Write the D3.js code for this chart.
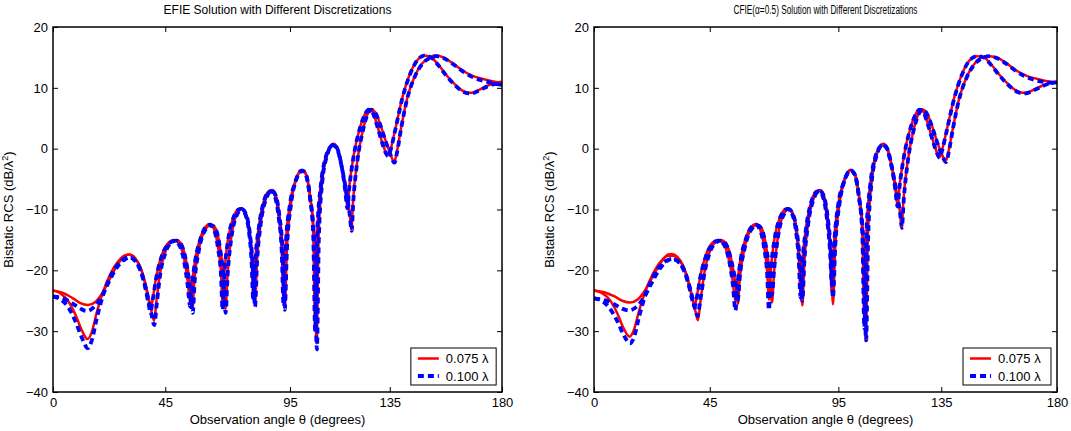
<!DOCTYPE html>
<html lang="en">
<head>
<meta charset="utf-8">
<title>Bistatic RCS - EFIE / CFIE</title>
<script src="https://d3js.org/d3.v7.min.js"></script>
<style>
  body { margin: 0; background: #fff; }
  svg { display: block; font-family: "Liberation Sans", Arial, sans-serif; }
  .tick text { font-size: 13px; fill: #000; }
  .tick line { stroke: #000; stroke-width: 1; }
</style>
</head>
<body>
<svg id="chart" width="1071" height="431"></svg>
<script>
// tick labels
const xTicks = [0, 45, 95, 135, 180];
const yTicks = [-40, -30, -20, -10, 0, 10, 20];
const seriesNames = ["0.075 \u03bb", "0.100 \u03bb"];

// EFIE panel, [angle in degrees, RCS in dB]
const efieRedA = [[0,-23.3],[4,-23.7],[8,-24.6],[11,-25.4],[14,-25.7],[17,-25.2],[20,-23.6],[23,-21.2],[26,-19.0],[29,-17.6],[30.5,-17.4],[32.5,-17.9],[34.8,-19.3],[36.8,-22.0],[38.4,-25.0],[39.2,-26.3],[40,-24.6],[41.5,-20.8],[43.5,-17.6],[46,-15.6],[48.5,-15.0],[50.5,-15.6],[52.5,-18.0],[54,-21.8],[55,-25.5],[55.6,-22.8],[57,-18.2],[59,-14.8],[61,-12.9],[62.8,-12.4],[64.5,-13.2],[66.2,-16.3],[67.3,-20.0],[68,-25.5],[68.7,-20.5],[70.2,-14.8],[72.2,-11.4],[74.5,-9.9],[75.5,-9.8],[77,-10.6],[78.5,-13.3],[79.6,-18.0],[80.3,-24.5],[81,-18.8],[82.5,-12.8],[84.5,-8.6],[86.5,-7.0],[87.6,-6.9],[89,-7.8],[90.5,-11.2],[91.7,-16.8],[92.4,-25.0],[93.2,-16.5],[95,-9.0],[97,-5.5],[99,-3.8],[100,-3.5],[101.5,-4.3],[103,-7.6],[104.3,-13.5],[105.1,-29.5],[105.9,-13.8],[107.4,-5.8],[109.4,-1.2],[111.4,0.5],[112.5,0.8],[114,0.1],[115.8,-3.0],[117.1,-6.5],[118,-9.6],[118.8,-6.2],[120.5,-1.2],[123,3.4],[125.3,5.9],[126.5,6.5],[128,6.1],[130,3.8],[132,1.0],[133.4,-0.6],[134.2,-1.1],[135.2,-0.3],[137,2.8],[140,8.3],[143,12.2],[146,14.5],[148.8,15.3],[151.5,15.0],[154.5,13.8],[157.5,12.2],[160.5,10.8],[163.5,9.7],[166.5,9.2],[168,9.2],[171,9.7],[174,10.3],[177,10.8],[180,11.0]];
const efieRedB = [[0,-23.3],[3,-23.8],[6,-25.0],[9,-27.3],[11.5,-29.8],[13.8,-31.3],[15.5,-30.2],[17.5,-27.0],[20,-23.6],[23,-20.6],[26,-18.6],[29,-17.5],[30.8,-17.4],[33,-18.0],[35.5,-20.0],[37.8,-23.5],[39.5,-26.8],[40.5,-28.3],[41.5,-25.0],[43,-20.3],[45,-17.0],[47.5,-15.3],[49.5,-15.0],[51.2,-15.5],[53.2,-18.0],[55,-22.5],[55.9,-26.3],[56.7,-21.5],[58.5,-16.5],[61,-13.3],[63.5,-12.5],[65.2,-13.1],[67,-16.3],[68.4,-21.0],[69.2,-26.3],[70,-20.5],[71.5,-14.5],[73.5,-11.0],[75.8,-9.9],[77.3,-10.6],[79,-14.0],[80.2,-19.5],[81,-25.5],[81.8,-18.5],[83.2,-12.5],[85.3,-8.3],[87.8,-6.8],[89.3,-7.6],[90.8,-11.0],[92.1,-17.0],[92.9,-26.3],[93.8,-16.3],[95.5,-8.8],[97.5,-5.0],[99.6,-3.5],[101.2,-4.0],[103,-7.8],[104.6,-14.0],[105.7,-32.0],[106.5,-14.2],[108,-5.2],[110,-0.9],[112,0.7],[113.6,0.3],[115.6,-2.6],[117.6,-7.0],[119,-10.8],[119.6,-13.4],[120.3,-8.5],[122,-2.0],[124.2,3.0],[126.5,6.0],[127.6,6.5],[129.2,6.0],[131.2,4.0],[133.2,1.5],[135.2,-0.8],[136.8,-2.2],[137.8,-0.6],[139.5,3.3],[142,8.3],[145,11.9],[148,14.0],[151,15.0],[153.5,15.3],[156.5,15.0],[160,14.1],[164,12.9],[168,12.0],[172,11.5],[176,11.1],[180,10.8]];
const efieBlueA = [[0,-24.3],[4,-24.6],[8,-25.5],[11,-26.3],[13.5,-26.7],[16.5,-26.0],[19.5,-24.3],[22.5,-21.8],[25.5,-19.6],[28.5,-18.3],[30.5,-17.9],[32.5,-18.3],[34.8,-19.8],[36.8,-22.5],[38.3,-25.5],[39.1,-26.8],[40,-24.8],[41.5,-21.0],[43.5,-17.8],[46,-15.8],[48.5,-15.2],[50.5,-15.8],[52.4,-18.2],[54,-22.5],[55,-26.0],[55.6,-23.0],[57,-18.4],[59,-15.0],[61,-13.0],[62.8,-12.5],[64.5,-13.3],[66.2,-16.5],[67.3,-20.5],[68,-26.5],[68.7,-20.8],[70.2,-15.0],[72.2,-11.5],[74.5,-10.0],[75.5,-9.9],[77,-10.7],[78.5,-13.5],[79.6,-18.5],[80.3,-25.0],[81,-19.0],[82.5,-13.0],[84.5,-8.7],[86.5,-7.1],[87.6,-7.0],[89,-7.9],[90.5,-11.4],[91.7,-17.0],[92.4,-25.5],[93.2,-16.8],[95,-9.1],[97,-5.6],[99,-3.9],[100,-3.6],[101.5,-4.4],[103,-7.8],[104.3,-14.0],[105.1,-30.0],[105.9,-14.0],[107.4,-5.9],[109.4,-1.3],[111.4,0.4],[112.5,0.7],[114,0.0],[115.8,-3.1],[117.1,-6.7],[118,-9.8],[118.8,-6.3],[120.5,-1.3],[123,3.3],[125.3,5.8],[126.5,6.4],[128,6.0],[130,3.7],[132,0.9],[133.4,-0.7],[134.2,-1.2],[135.2,-0.4],[137,2.7],[140,8.2],[143,12.1],[146,14.5],[148.8,15.3],[151.5,15.0],[154.5,13.7],[157.5,12.1],[160.5,10.7],[163.5,9.6],[166.5,9.1],[168,9.1],[171,9.6],[174,10.2],[177,10.6],[180,10.7]];
const efieBlueB = [[0,-24.3],[3,-24.8],[6,-26.0],[9,-28.4],[11.5,-31.0],[14,-32.8],[15.7,-31.3],[17.6,-27.8],[20,-24.2],[23,-21.0],[26,-19.0],[29,-18.0],[31,-17.9],[33.2,-18.5],[35.6,-20.5],[37.8,-24.0],[39.5,-27.3],[40.6,-29.0],[41.6,-25.5],[43,-20.6],[45,-17.2],[47.5,-15.4],[49.5,-15.1],[51.2,-15.6],[53.2,-18.2],[55,-23.0],[56,-27.0],[56.8,-21.8],[58.5,-16.7],[61,-13.4],[63.5,-12.6],[65.2,-13.2],[67,-16.5],[68.4,-21.5],[69.2,-27.0],[70,-20.8],[71.5,-14.7],[73.5,-11.1],[75.8,-10.0],[77.3,-10.7],[79,-14.2],[80.2,-19.8],[81,-26.0],[81.8,-18.7],[83.2,-12.6],[85.3,-8.4],[87.8,-6.9],[89.3,-7.7],[90.8,-11.1],[92.1,-17.2],[92.9,-26.5],[93.8,-16.5],[95.5,-8.9],[97.5,-5.1],[99.6,-3.6],[101.2,-4.1],[103,-8.0],[104.6,-14.5],[105.8,-33.0],[106.6,-14.5],[108,-5.3],[110,-1.0],[112,0.6],[113.6,0.2],[115.6,-2.7],[117.6,-7.2],[119,-11.0],[119.7,-13.5],[120.4,-8.6],[122,-2.1],[124.2,2.9],[126.5,6.0],[127.6,6.4],[129.2,5.9],[131.2,3.9],[133.2,1.4],[135.2,-0.9],[136.9,-2.3],[137.9,-0.7],[139.5,3.2],[142,8.2],[145,11.8],[148,13.9],[151,14.9],[153.5,15.2],[156.5,14.9],[160,14.0],[164,12.8],[168,11.8],[172,11.2],[176,10.8],[180,10.5]];

// CFIE panel
const cfieRedA = [[0,-23.3],[4,-23.6],[8,-24.3],[11,-25.0],[14,-25.3],[17,-24.8],[20,-23.2],[23,-20.9],[26,-18.7],[28.8,-17.4],[30.3,-17.3],[32.4,-17.8],[34.7,-19.3],[36.7,-22.0],[38.3,-24.8],[39.2,-25.8],[40,-24.2],[41.5,-20.6],[43.5,-17.5],[46,-15.5],[48.2,-15.0],[50.3,-15.6],[52.3,-18.0],[53.9,-21.6],[54.9,-25.0],[55.6,-22.4],[57,-18.0],[59,-14.7],[61,-12.9],[62.8,-12.4],[64.5,-13.2],[66.2,-16.3],[67.3,-20.0],[68,-24.8],[68.7,-20.2],[70.2,-14.7],[72.2,-11.4],[74.5,-9.9],[75.5,-9.8],[77,-10.6],[78.5,-13.3],[79.6,-18.0],[80.3,-23.8],[81,-18.6],[82.5,-12.8],[84.5,-8.6],[86.5,-7.0],[87.6,-6.9],[89,-7.8],[90.5,-11.2],[91.7,-16.5],[92.4,-23.5],[93.2,-16.2],[95,-9.0],[97,-5.5],[99,-3.8],[100,-3.5],[101.5,-4.3],[103,-7.6],[104.3,-13.5],[105.1,-28.5],[105.9,-13.8],[107.4,-5.8],[109.4,-1.2],[111.4,0.5],[112.5,0.8],[114,0.1],[115.8,-3.0],[117.1,-6.5],[118,-9.4],[118.8,-6.1],[120.5,-1.2],[123,3.4],[125.3,5.9],[126.5,6.5],[128,6.1],[130,3.8],[132,1.0],[133.4,-0.7],[134.3,-1.4],[135.2,-0.4],[137,2.8],[140,8.3],[143,12.2],[146,14.5],[149,15.2],[151.5,15.0],[154.5,13.8],[157.5,12.2],[160.5,10.8],[163.5,9.7],[166.5,9.2],[168,9.2],[171,9.7],[174,10.3],[177,10.8],[180,11.0]];
const cfieRedB = [[0,-23.3],[3,-23.7],[6,-24.8],[9,-27.0],[11.5,-29.5],[13.8,-30.9],[15.5,-29.8],[17.5,-26.7],[20,-23.4],[23,-20.5],[26,-18.5],[29,-17.6],[30.8,-17.6],[33,-18.2],[35.5,-20.2],[37.8,-23.6],[39.5,-26.8],[40.4,-28.2],[41.4,-25.0],[43,-20.2],[45,-16.9],[47.5,-15.3],[49.5,-15.0],[51.2,-15.5],[53.2,-17.9],[55,-22.3],[55.9,-25.5],[56.7,-21.3],[58.5,-16.4],[61,-13.3],[63.5,-12.5],[65.2,-13.1],[67,-16.3],[68.4,-21.0],[69.2,-25.3],[70,-20.3],[71.5,-14.5],[73.5,-11.0],[75.8,-9.9],[77.3,-10.6],[79,-14.0],[80.2,-19.5],[81,-25.8],[81.8,-18.5],[83.2,-12.5],[85.3,-8.3],[87.8,-6.8],[89.3,-7.6],[90.8,-11.0],[92.1,-17.0],[92.9,-25.6],[93.8,-16.2],[95.5,-8.8],[97.5,-5.0],[99.6,-3.5],[101.2,-4.0],[103,-7.8],[104.6,-14.0],[105.7,-31.6],[106.5,-14.2],[108,-5.2],[110,-0.9],[112,0.7],[113.6,0.3],[115.6,-2.6],[117.6,-7.0],[119,-10.6],[119.6,-13.1],[120.3,-8.4],[122,-2.0],[124.2,3.0],[126.5,6.0],[127.6,6.5],[129.2,6.0],[131.2,4.0],[133.2,1.4],[135.2,-0.9],[136.8,-2.0],[137.8,-0.5],[139.5,3.3],[142,8.3],[145,11.9],[148,14.0],[151,15.0],[154,15.2],[157,14.9],[160.5,14.0],[164,12.9],[168,12.0],[172,11.5],[176,11.1],[180,10.9]];
const cfieBlueA = [[0,-24.6],[4,-24.9],[8,-25.6],[11,-26.3],[13.5,-26.6],[16.5,-26.0],[19.5,-24.4],[22.5,-22.0],[25.5,-19.8],[28.5,-18.4],[30.5,-18.1],[32.5,-18.5],[34.8,-19.9],[36.8,-22.4],[38.3,-25.0],[39.1,-26.0],[40,-24.4],[41.5,-20.8],[43.5,-17.7],[46,-15.7],[48.3,-15.1],[50.4,-15.7],[52.4,-18.2],[54,-22.4],[55,-26.6],[55.7,-22.9],[57,-18.3],[59,-14.9],[61,-13.0],[62.8,-12.5],[64.5,-13.3],[66.2,-16.5],[67.3,-20.5],[68,-26.5],[68.7,-20.6],[70.2,-14.9],[72.2,-11.5],[74.5,-10.0],[75.5,-9.9],[77,-10.7],[78.5,-13.5],[79.6,-18.3],[80.3,-24.5],[81,-18.9],[82.5,-12.9],[84.5,-8.7],[86.5,-7.1],[87.6,-7.0],[89,-7.9],[90.5,-11.3],[91.7,-16.5],[92.5,-22.5],[93.3,-16.0],[95,-9.0],[97,-5.6],[99,-3.9],[100,-3.6],[101.5,-4.4],[103,-7.8],[104.3,-14.0],[105.1,-29.5],[105.9,-14.0],[107.4,-5.9],[109.4,-1.3],[111.4,0.4],[112.5,0.7],[114,0.0],[115.8,-3.1],[117.1,-6.6],[118,-9.5],[118.8,-6.2],[120.5,-1.3],[123,3.3],[125.3,5.8],[126.5,6.4],[128,6.0],[130,3.7],[132,0.9],[133.4,-0.8],[134.3,-1.5],[135.2,-0.5],[137,2.7],[140,8.2],[143,12.1],[146,14.5],[149,15.2],[151.5,15.0],[154.5,13.7],[157.5,12.1],[160.5,10.7],[163.5,9.6],[166.5,9.1],[168,9.1],[171,9.6],[174,10.2],[177,10.7],[180,10.9]];
const cfieBlueB = [[0,-24.6],[3,-25.0],[6,-26.2],[9,-28.3],[11.5,-30.6],[14,-32.0],[15.7,-30.8],[17.6,-27.5],[20,-24.0],[23,-21.0],[26,-19.1],[29,-18.3],[31,-18.2],[33.2,-18.7],[35.6,-20.5],[37.8,-23.7],[39.4,-26.5],[40.3,-27.5],[41.3,-25.0],[43,-20.4],[45,-17.1],[47.5,-15.4],[49.5,-15.1],[51.2,-15.6],[53.2,-18.1],[55,-22.0],[55.9,-25.0],[56.7,-21.0],[58.5,-16.5],[61,-13.4],[63.5,-12.6],[65.2,-13.2],[67,-16.4],[68.4,-20.5],[69.2,-24.0],[70,-20.0],[71.5,-14.6],[73.5,-11.1],[75.8,-10.0],[77.3,-10.7],[79,-14.1],[80.2,-19.3],[81,-25.0],[81.8,-18.4],[83.2,-12.6],[85.3,-8.4],[87.8,-6.9],[89.3,-7.7],[90.8,-11.1],[92.1,-17.0],[92.9,-24.5],[93.8,-16.0],[95.5,-8.9],[97.5,-5.1],[99.6,-3.6],[101.2,-4.1],[103,-8.0],[104.6,-14.5],[105.8,-31.5],[106.6,-14.5],[108,-5.3],[110,-1.0],[112,0.6],[113.6,0.2],[115.6,-2.7],[117.6,-7.1],[119,-10.6],[119.7,-13.0],[120.4,-8.5],[122,-2.1],[124.2,2.9],[126.5,5.9],[127.6,6.4],[129.2,5.9],[131.2,3.9],[133.2,1.3],[135.2,-1.0],[136.9,-2.2],[137.9,-0.6],[139.5,3.2],[142,8.2],[145,11.8],[148,13.9],[151,14.9],[154,15.2],[157,14.8],[160.5,13.9],[164,12.8],[168,11.8],[172,11.2],[176,10.9],[180,10.7]];

const svg = d3.select("#chart");

//one panel per solver
const panels = [
    { title: "EFIE Solution with Different Discretizations", left: 53, right: 502,
      red: [efieRedA, efieRedB], blue: [efieBlueA, efieBlueB] },
    { title: "CFIE(\u03b1=0.5) Solution with Different Discretizations", left: 594, right: 1057, titleLen: 184,
      red: [cfieRedA, cfieRedB], blue: [cfieBlueA, cfieBlueB] }
];
const plotTop = 27, plotBottom = 392;

panels.forEach(p => {
    const x = d3.scaleLinear().domain([0, 180]).range([p.left, p.right]);
    const y = d3.scaleLinear().domain([-40, 20]).range([plotBottom, plotTop]);
    const g = svg.append("g");
    const w = p.right - p.left;

    //axes, ticks pointing inward on all four sides
    g.append("g").attr("transform", `translate(0,${plotBottom})`)
        .call(d3.axisBottom(x).tickValues(xTicks).tickSize(-5).tickPadding(6))
        .call(a => a.select(".domain").remove());
    g.append("g").attr("transform", `translate(0,${plotTop})`)
        .call(d3.axisTop(x).tickValues(xTicks).tickSize(-5).tickFormat(""))
        .call(a => a.select(".domain").remove());
    g.append("g").attr("transform", `translate(${p.left},0)`)
        .call(d3.axisLeft(y).tickValues(yTicks).tickSize(-5).tickPadding(5))
        .call(a => a.select(".domain").remove());
    g.append("g").attr("transform", `translate(${p.right},0)`)
        .call(d3.axisRight(y).tickValues(yTicks).tickSize(-5).tickFormat(""))
        .call(a => a.select(".domain").remove());

    const line = d3.line().x(d => x(d[0])).y(d => y(d[1])).curve(d3.curveMonotoneX);

    p.red.forEach(s => g.append("path").datum(s).attr("d", line)
        .attr("fill", "none").attr("stroke", "#ff0000").attr("stroke-width", 2.5));
    p.blue.forEach(s => g.append("path").datum(s).attr("d", line)
        .attr("fill", "none").attr("stroke", "#0000ff").attr("stroke-width", 3.8)
        .attr("stroke-dasharray", "6,4"));

    g.append("rect").attr("x", p.left).attr("y", plotTop)
        .attr("width", w).attr("height", plotBottom - plotTop)
        .attr("fill", "none").attr("stroke", "#000").attr("stroke-width", 1.5);

    //title
    const t = g.append("text").attr("x", (p.left + p.right) / 2).attr("y", 14)
        .attr("text-anchor", "middle").attr("font-size", 12).text(p.title);
    if (p.titleLen) t.attr("textLength", p.titleLen).attr("lengthAdjust", "spacingAndGlyphs");

    //axis labels
    g.append("text").attr("x", (p.left + p.right) / 2).attr("y", 424)
        .attr("text-anchor", "middle").attr("font-size", 13)
        .text("Observation angle \u03b8 (degrees)");
    const yl = g.append("text")
        .attr("transform", `translate(${p.left - 40},${(plotTop + plotBottom) / 2}) rotate(-90)`)
        .attr("text-anchor", "middle").attr("font-size", 13);
    yl.append("tspan").text("Bistatic RCS (dB/\u03bb");
    yl.append("tspan").attr("font-size", 9).attr("dy", -5).text("2");
    yl.append("tspan").attr("dy", 5).text(")");

    //legend
    const lx = p.left + 0.797 * w, ly = 348, lw = 0.19 * w;
    const lg = g.append("g");
    lg.append("rect").attr("x", lx).attr("y", ly).attr("width", lw).attr("height", 37)
        .attr("fill", "#fff").attr("stroke", "#000").attr("stroke-width", 1);
    const items = [
        { name: seriesNames[0], color: "#ff0000", width: 2.5, dash: null },
        { name: seriesNames[1], color: "#0000ff", width: 3.8, dash: "6,4" }
    ];
    items.forEach((it, i) => {
        const yy = ly + 10.5 + i * 17.5;
        lg.append("line").attr("x1", lx + 7).attr("x2", lx + 28).attr("y1", yy).attr("y2", yy)
            .attr("stroke", it.color).attr("stroke-width", it.width)
            .attr("stroke-dasharray", it.dash);
        lg.append("text").attr("x", lx + 35).attr("y", yy + 4.5)
            .attr("font-size", 13).text(it.name);
    });
});
</script>
</body>
</html>
